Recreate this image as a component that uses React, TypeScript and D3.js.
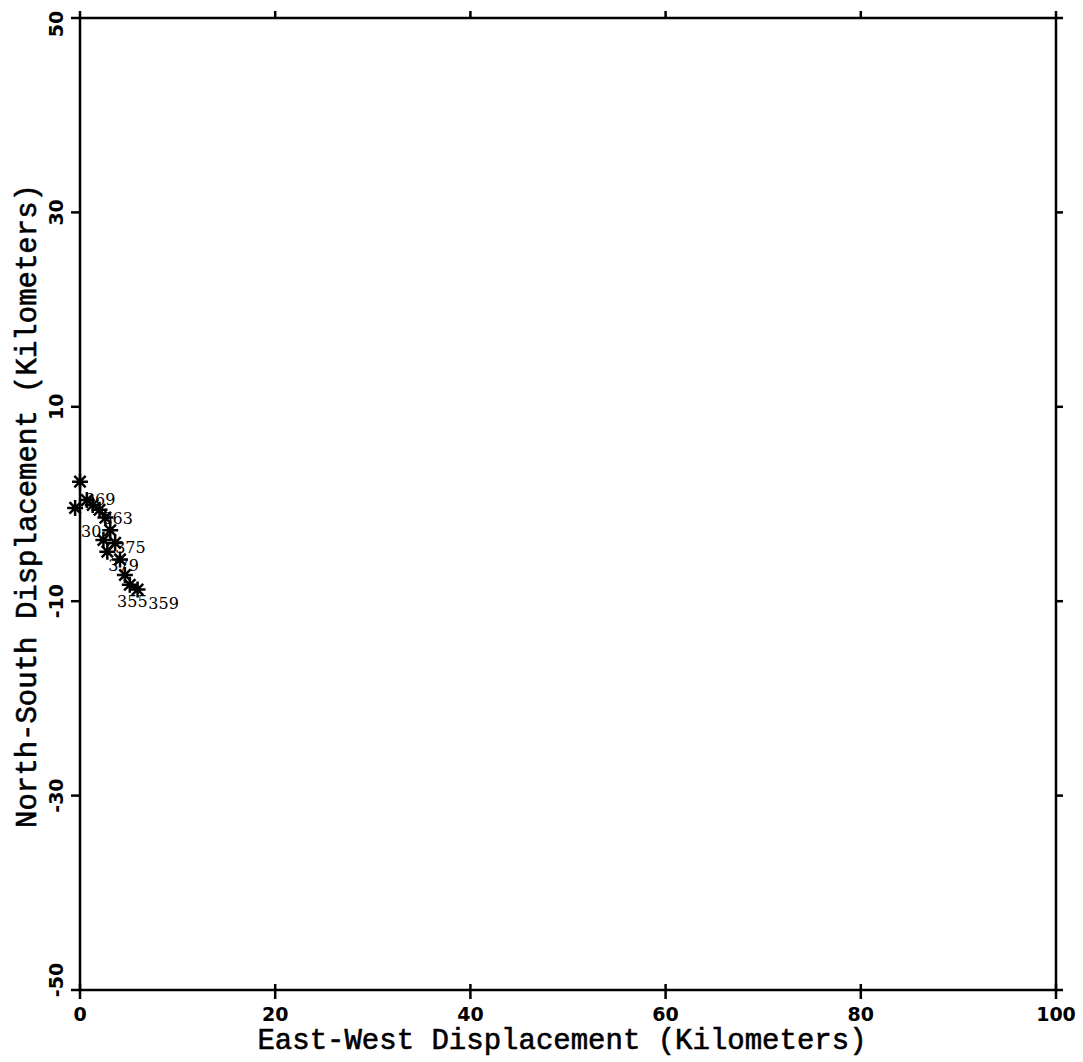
import React from "react";
import * as d3 from "d3";

const xTicks = [0, 20, 40, 60, 80, 100];
const yTicks = [-50, -30, -10, 10, 30, 50];
const xTickLabels = ["0", "20", "40", "60", "80", "100"];
const yTickLabels = ["-50", "-30", "-10", "10", "30", "50"];

const starX = [0.0, -0.5, 0.7, 1.3, 2.0, 2.6, 3.1, 2.4, 3.6, 2.8, 4.1, 4.6, 5.1, 5.9];
const starY = [2.3, -0.4, 0.4, -0.1, -0.6, -1.4, -2.7, -3.7, -4.0, -4.9, -5.7, -7.3, -8.3, -8.8];

const labelText = ["369", "363", "30", "375", "379", "355", "359"];
const labelX = [0.5, 2.3, 0.1, 3.6, 2.9, 3.8, 7.0];
const labelY = [-0.1, -2.1, -3.4, -5.0, -6.9, -10.6, -10.8];

const xTitle = "East-West Displacement (Kilometers)";
const yTitle = "North-South Displacement (Kilometers)";

const W = 1083;
const H = 1062;

export default function App() {
  const x = d3.scaleLinear().domain([0, 100]).range([80, 1056]);
  const y = d3.scaleLinear().domain([-50, 50]).range([990, 18]);
  const r = 8;
  const starPath = (cx: number, cy: number) => {
    const parts: string[] = [];
    [0, 45, 90, 135].forEach((a) => {
      const rad = (a * Math.PI) / 180;
      const dx = Math.cos(rad) * r;
      const dy = Math.sin(rad) * r;
      parts.push(`M${cx - dx},${cy - dy}L${cx + dx},${cy + dy}`);
    });
    return parts.join("");
  };
  const tickFont = "'DejaVu Sans', sans-serif";
  const titleFont = "'Liberation Mono', monospace";
  const labelFont = "'DejaVu Serif', serif";
  return (
    <svg width={W} height={H} style={{ position: "absolute", left: 0, top: 0, background: "#fff" }}>
      <rect x={0} y={0} width={W} height={H} fill="#fff" />
      {/* frame */}
      <rect x={x(0)} y={y(50)} width={x(100) - x(0)} height={y(-50) - y(50)} fill="none" stroke="#000" strokeWidth={2.5} />
      {/* bottom / top ticks + labels */}
      {xTicks.map((t, i) => (
        <g key={"xt" + i}>
          <line x1={x(t)} x2={x(t)} y1={y(-50) - 6} y2={y(-50) + 9} stroke="#000" strokeWidth={2.5} />
          <line x1={x(t)} x2={x(t)} y1={y(50) - 7} y2={y(50)} stroke="#000" strokeWidth={2.5} />
          <text x={x(t)} y={y(-50) + 31} textAnchor="middle" fontFamily={tickFont} fontWeight="bold" fontSize={19}>
            {xTickLabels[i]}
          </text>
        </g>
      ))}
      {/* left/right ticks + labels */}
      {yTicks.map((t, i) => {
        const yy = t === -50 ? y(t) - 10 : t === 50 ? y(t) + 6 : y(t);
        return (
          <g key={"yt" + i}>
            <line x1={x(0) - 9} x2={x(0)} y1={y(t)} y2={y(t)} stroke="#000" strokeWidth={2.5} />
            <line x1={x(100)} x2={x(100) + 7} y1={y(t)} y2={y(t)} stroke="#000" strokeWidth={2.5} />
            <text
              transform={`translate(63,${yy}) rotate(-90)`}
              textAnchor="middle"
              fontFamily={tickFont}
              fontWeight="bold"
              fontSize={19}
            >
              {yTickLabels[i]}
            </text>
          </g>
        );
      })}
      {/* titles */}
      <text x={562} y={1049} textAnchor="middle" fontFamily={titleFont} fontSize={29} stroke="#000" strokeWidth={0.6}>
        {xTitle}
      </text>
      <text
        transform={`translate(36,506) rotate(-90)`}
        textAnchor="middle"
        fontFamily={titleFont}
        fontSize={29}
        stroke="#000"
        strokeWidth={0.6}
      >
        {yTitle}
      </text>
      {/* data */}
      {starX.map((sx, i) => (
        <path key={"s" + i} d={starPath(x(sx), y(starY[i]))} stroke="#000" strokeWidth={2.5} fill="none" />
      ))}
      {labelText.map((lt, i) => (
        <text key={"l" + i} x={x(labelX[i])} y={y(labelY[i])} fontFamily={labelFont} fontSize={16}>
          {lt}
        </text>
      ))}
    </svg>
  );
}
